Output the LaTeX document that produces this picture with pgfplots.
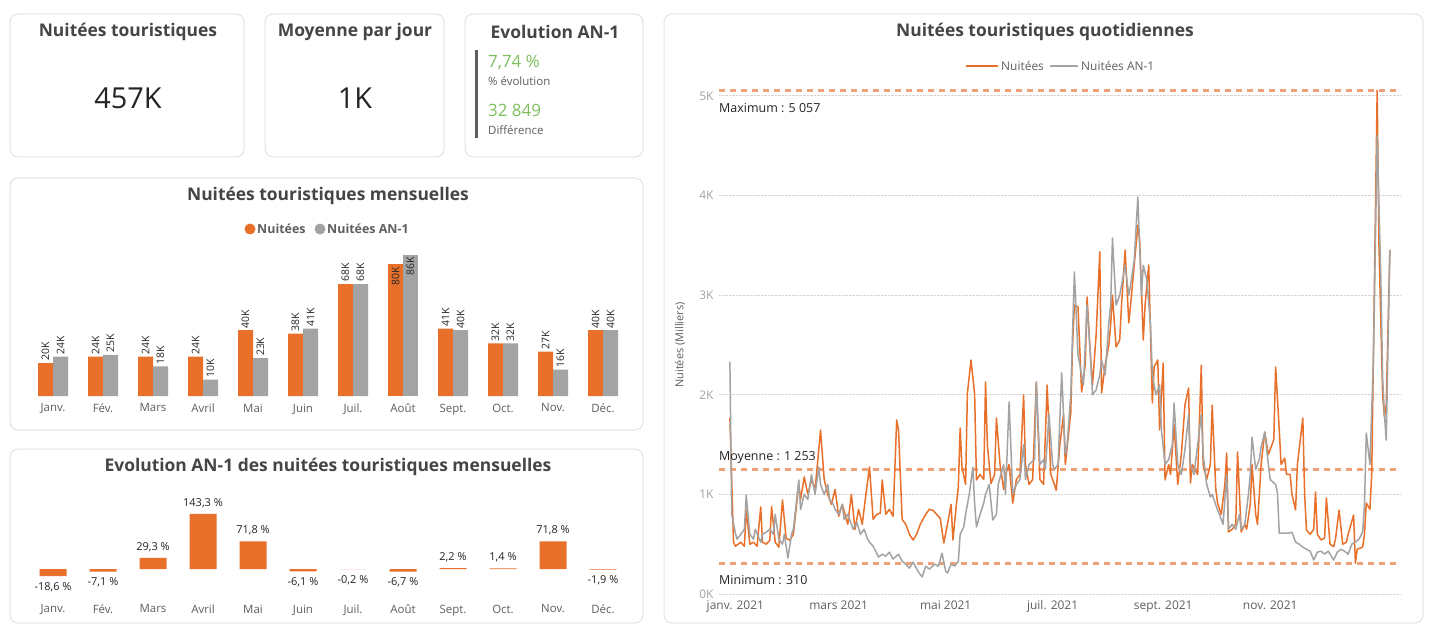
\documentclass[border=0pt]{standalone}
\usepackage{pgfplots}
\pgfplotsset{compat=1.18}
\usepackage{pgfplotstable}
\usepackage{fontspec}
\setmainfont{Open Sans}

\definecolor{orangeN}{HTML}{E8702A}
\definecolor{grayN}{HTML}{A3A3A3}
\definecolor{txt}{HTML}{252423}
\definecolor{ttl}{HTML}{454545}
\definecolor{sub}{HTML}{605E5C}
\definecolor{greenN}{HTML}{7CBF5E}
\definecolor{cardc}{HTML}{E2E2E2}
\definecolor{gridc}{HTML}{D4D4D4}
\definecolor{refl}{HTML}{EFA27A}

\newcommand\ttlfont{\fontsize{17.5}{20}\selectfont\bfseries\color{ttl}}

% monthly nights (thousands), without August
\pgfplotstableread{
m n a
0 20 24
1 24 25
2 24 18
3 24 10
4 40 23
5 38 41
6 68 68
8 41 40
9 32 32
10 27 16
11 40 40
}\mensuel

% change vs previous year (%)
\pgfplotstableread{
m e
0 -18.6
1 -7.1
2 29.3
3 143.3
4 71.8
5 -6.1
6 -0.2
7 -6.7
8 2.2
9 1.4
10 71.8
11 -1.9
}\evol

% daily nights 2021 (day of year, value)
\pgfplotstableread{
d v
0 1770
2 520
3 480
6 520
8 480
9 843
11 500
13 520
15 480
17 874
18 520
20 500
22 540
23 877
25 520
27 470
29 944
31 560
33 540
35 600
38 1100
39 950
41 1175
43 1000
45 1150
47 1050
50 1646
52 1150
54 1000
56 900
58 1050
60 780
62 900
65 700
67 1000
69 650
71 850
73 700
75 1000
77 1275
79 750
81 800
83 813
84 1145
86 800
88 850
90 780
92 1747
93 1650
95 750
97 700
99 600
101 542
103 600
105 700
108 800
110 850
112 840
114 800
116 760
118 512
120 700
122 900
123 542
125 913
126 1074
127 1667
128 1275
130 1100
131 2018
133 2349
135 2000
136 1145
138 1200
140 1150
141 2128
142 1500
144 1110
146 1200
147 1767
149 1300
151 1050
152 1200
154 1300
156 913
158 1150
160 1200
162 1998
163 1300
165 1100
167 1150
169 2128
171 1150
173 1100
175 2098
177 1200
179 1100
180 1040
182 1500
184 1800
185 1300
188 1817
189 2500
190 2900
192 2882
194 2028
196 2300
197 2982
199 2350
200 2100
202 2600
204 3434
205 2018
207 2300
209 2500
210 2700
211 3000
213 2480
215 2550
216 2900
218 3454
220 2721
221 2900
223 3300
225 3700
226 3554
228 2550
229 2900
231 3303
233 1918
234 2280
236 2350
237 1647
239 2319
240 1145
242 1300
243 1200
245 1700
247 1100
249 1400
251 1900
253 2068
254 1114
255 1300
258 1200
260 2299
261 1300
263 1150
265 1300
266 1897
268 1050
269 913
271 800
273 1100
274 1416
275 622
277 650
279 700
280 1426
282 622
284 700
285 650
287 900
288 1300
290 800
291 700
293 1300
295 1626
297 1400
298 1450
300 1550
301 2280
303 1650
304 1300
306 1365
307 1200
309 1200
310 1000
312 843
313 1300
316 1767
317 1000
318 643
320 600
322 650
323 1024
324 600
326 543
328 560
329 964
331 500
333 476
334 550
336 843
338 500
340 520
341 600
344 793
345 310
346 450
349 470
350 600
351 913
353 850
354 1200
355 2500
357 5057
358 3500
360 2000
361 1777
362 1900
364 3454
}\nuitees

% daily nights previous year
\pgfplotstableread{
d v
0 2332
1 800
3 612
4 550
6 600
8 650
9 994
11 600
13 550
14 650
17 520
18 600
20 620
22 650
24 600
25 800
27 550
29 500
30 600
32 361
34 600
35 650
38 1144
39 850
41 1000
43 950
45 1200
47 1000
49 1275
50 1100
52 1000
54 1100
55 950
57 900
58 850
60 800
62 900
63 750
65 800
67 700
68 650
70 720
72 600
74 650
76 550
77 520
79 480
82 371
84 400
86 380
88 420
90 350
93 400
95 330
97 300
99 260
101 320
104 220
106 171
108 280
110 250
113 300
115 280
117 410
119 230
120 211
122 300
124 280
126 330
127 600
129 673
130 800
132 1000
134 1275
135 900
136 673
138 800
140 913
141 1000
143 1100
145 743
147 800
148 1100
151 1300
152 1000
154 1928
156 1000
158 1100
160 1150
162 1500
163 1150
165 1300
168 1350
169 2128
171 1300
173 1350
174 1250
176 1800
178 1300
179 1250
181 1300
183 2219
185 1400
186 1500
188 2000
190 3233
192 2400
194 2200
195 2100
197 2900
199 2350
200 2000
202 2050
204 2200
205 2350
207 2200
209 2721
210 2900
211 3574
213 2900
215 3000
216 3100
218 3300
220 3000
221 3100
223 3350
225 3986
227 3000
228 3300
230 3150
232 2700
233 2200
235 2000
237 2100
238 1650
240 1300
242 1350
244 1500
245 1918
247 1300
249 1200
251 1450
253 1800
254 1300
256 1200
258 1500
260 1800
261 1400
263 1100
265 974
266 1000
269 843
270 800
272 700
274 1200
275 650
277 700
279 650
281 800
282 650
284 700
286 1000
287 1200
288 1576
290 1250
292 1350
293 1476
295 1626
297 1300
298 1150
301 1100
302 1014
303 612
306 612
308 610
310 620
312 522
314 500
316 470
318 450
320 430
322 341
324 420
326 430
328 400
330 430
333 341
335 420
337 450
339 430
341 400
343 500
345 522
347 550
349 622
350 900
351 1616
353 1300
355 2400
357 4600
359 3200
360 2180
361 1800
362 1546
364 3454
}\anun

\begin{document}
\begin{tikzpicture}[x=1bp,y=1bp]
\path[use as bounding box, fill=white] (0,0) rectangle (1433,-626);

% cards
\tikzset{card/.style={draw=cardc, line width=1bp, fill=white, rounded corners=8bp}}
\path[card] (10,-14) rectangle (244,-157);
\path[card] (265,-14) rectangle (444,-157);
\path[card] (465,-14) rectangle (643,-157);
\path[card] (10,-178) rectangle (643,-430);
\path[card] (10,-449) rectangle (643,-623);
\path[card] (664,-14) rectangle (1423,-623);

% KPI cards
\node[font=\ttlfont] at (128,-32) {Nuitées touristiques};
\node[font=\fontsize{29}{34}\selectfont, text=txt] at (128,-98) {457K};
\node[font=\ttlfont] at (355,-32) {Moyenne par jour};
\node[font=\fontsize{29}{34}\selectfont, text=txt] at (355,-98) {1K};
\node[font=\ttlfont] at (555,-32) {Evolution AN-1};
\fill[sub] (475,-50) rectangle (478,-138);
\node[anchor=west, inner sep=0, font=\fontsize{17}{19}\selectfont, text=greenN] at (488,-62) {7,74 \%};
\node[anchor=west, inner sep=0, font=\fontsize{11.5}{13}\selectfont, text=sub] at (488,-81) {\% évolution};
\node[anchor=west, inner sep=0, font=\fontsize{17}{19}\selectfont, text=greenN] at (488,-110) {32 849};
\node[anchor=west, inner sep=0, font=\fontsize{11.5}{13}\selectfont, text=sub] at (488,-130) {Différence};

% monthly chart
\node[font=\ttlfont] at (328,-196) {Nuitées touristiques mensuelles};
\fill[orangeN] (250,-229) circle (5.5bp);
\node[anchor=west, inner sep=0, font=\fontsize{12.5}{14}\selectfont\bfseries, text=sub] at (257,-229) {Nuitées};
\fill[grayN] (320,-229) circle (5.5bp);
\node[anchor=west, inner sep=0, font=\fontsize{12.5}{14}\selectfont\bfseries, text=sub] at (327,-229) {Nuitées AN-1};

\begin{axis}[
  at={(28bp,-396bp)}, anchor=south west, scale only axis,
  width=600bp, height=150bp,
  xmin=-0.5, xmax=11.5, ymin=0, ymax=91.2,
  ybar, bar width=15bp,
  axis line style={draw=none}, tick style={draw=none},
  ytick=\empty,
  xtick={0,...,11},
  xticklabels={Janv.,Fév.,Mars,Avril,Mai,Juin,Juil.,Août,Sept.,Oct.,Nov.,Déc.},
  ticklabel style={font=\fontsize{11.5}{13}\selectfont, text=sub},
  xticklabel style={yshift=0bp},
  nodes near coords={\pgfmathprintnumber[assume math mode=true]{\pgfplotspointmeta}K},
  every node near coord/.append style={rotate=90, anchor=west, inner sep=2bp,
    font=\fontsize{10.5}{12}\selectfont, text=txt},
  clip=false,
]
\addplot[fill=orangeN, draw=none, bar shift=-7.5bp] table[x=m, y=n] {\mensuel};
\addplot[fill=grayN, draw=none, bar shift=7.5bp] table[x=m, y=a] {\mensuel};
\addplot[fill=orangeN, draw=none, bar shift=-7.5bp,
  every node near coord/.append style={anchor=east}] coordinates {(7,80)};
\addplot[fill=grayN, draw=none, bar shift=7.5bp,
  every node near coord/.append style={anchor=east}] coordinates {(7,86)};
\end{axis}

% evolution chart
\node[font=\ttlfont] at (328,-467) {Evolution AN-1 des nuitées touristiques mensuelles};
\begin{axis}[
  at={(28bp,-598bp)}, anchor=south west, scale only axis,
  width=600bp, height=108bp,
  xmin=-0.5, xmax=11.5, ymin=-75.5, ymax=205.7,
  ybar, bar width=27bp,
  axis line style={draw=none}, tick style={draw=none},
  ytick=\empty,
  xtick={0,...,11},
  xticklabels={Janv.,Fév.,Mars,Avril,Mai,Juin,Juil.,Août,Sept.,Oct.,Nov.,Déc.},
  ticklabel style={font=\fontsize{11.5}{13}\selectfont, text=sub},
  xticklabel style={yshift=1bp},
  nodes near coords={\pgfmathprintnumber[fixed, precision=1, fixed zerofill, use comma, assume math mode=true]{\pgfplotspointmeta}~\%},
  every node near coord/.append style={inner ysep=6bp, font=\fontsize{11}{13}\selectfont, text=txt},
  clip=false,
]
\addplot[fill=orangeN, draw=none] table[x=m, y=e] {\evol};
\end{axis}

% daily chart
\node[font=\ttlfont] at (1045,-32) {Nuitées touristiques quotidiennes};
\draw[orangeN, line width=1.8bp] (966,-66) -- (998,-66);
\node[anchor=west, inner sep=0, font=\fontsize{12}{14}\selectfont, text=sub] at (1001,-66) {Nuitées};
\draw[grayN, line width=1.8bp] (1050,-66) -- (1078,-66);
\node[anchor=west, inner sep=0, font=\fontsize{12}{14}\selectfont, text=sub] at (1081,-66) {Nuitées AN-1};
\node[rotate=90, font=\fontsize{11}{13}\selectfont, text=sub] at (680,-345) {Nuitées (Milliers)};

\begin{axis}[
  at={(719bp,-594bp)}, anchor=south west, scale only axis,
  width=681.7bp, height=508bp,
  xmin=-6, xmax=370, ymin=0, ymax=5100,
  axis line style={draw=none}, tick style={draw=none},
  ytick={0,1000,...,5000}, yticklabels={0K,1K,2K,3K,4K,5K},
  xtick={3,60,119,178,239,298},
  xticklabels={janv. 2021,mars 2021,mai 2021,juil. 2021,sept. 2021,nov. 2021},
  ticklabel style={font=\fontsize{12}{14}\selectfont, text=sub},
  yticklabel style={text=grayN, xshift=-2bp},
  xticklabel style={yshift=-3bp},
  ymajorgrids, grid style={gridc, densely dotted, line width=1bp},
  clip=false,
]
\addplot[refl, line width=3bp, dash pattern=on 6bp off 5bp] coordinates {(-6,5057) (370,5057)};
\addplot[refl, line width=3bp, dash pattern=on 6bp off 5bp] coordinates {(-6,1253) (370,1253)};
\addplot[refl, line width=3bp, dash pattern=on 6bp off 5bp] coordinates {(-6,310) (370,310)};
\addplot[orangeN, line width=1.5bp, line join=round] table[x=d, y=v] {\nuitees};
\addplot[grayN, line width=1.5bp, line join=round] table[x=d, y=v] {\anun};
\node[anchor=west, inner sep=0, font=\fontsize{12.5}{14}\selectfont, text=txt] at (axis cs:-6,4880) {Maximum : 5 057};
\node[anchor=west, inner sep=0, font=\fontsize{12.5}{14}\selectfont, text=txt] at (axis cs:-6,1375) {Moyenne : 1 253};
\node[anchor=west, inner sep=0, font=\fontsize{12.5}{14}\selectfont, text=txt] at (axis cs:-6,140) {Minimum : 310};
\end{axis}
\end{tikzpicture}
\end{document}
